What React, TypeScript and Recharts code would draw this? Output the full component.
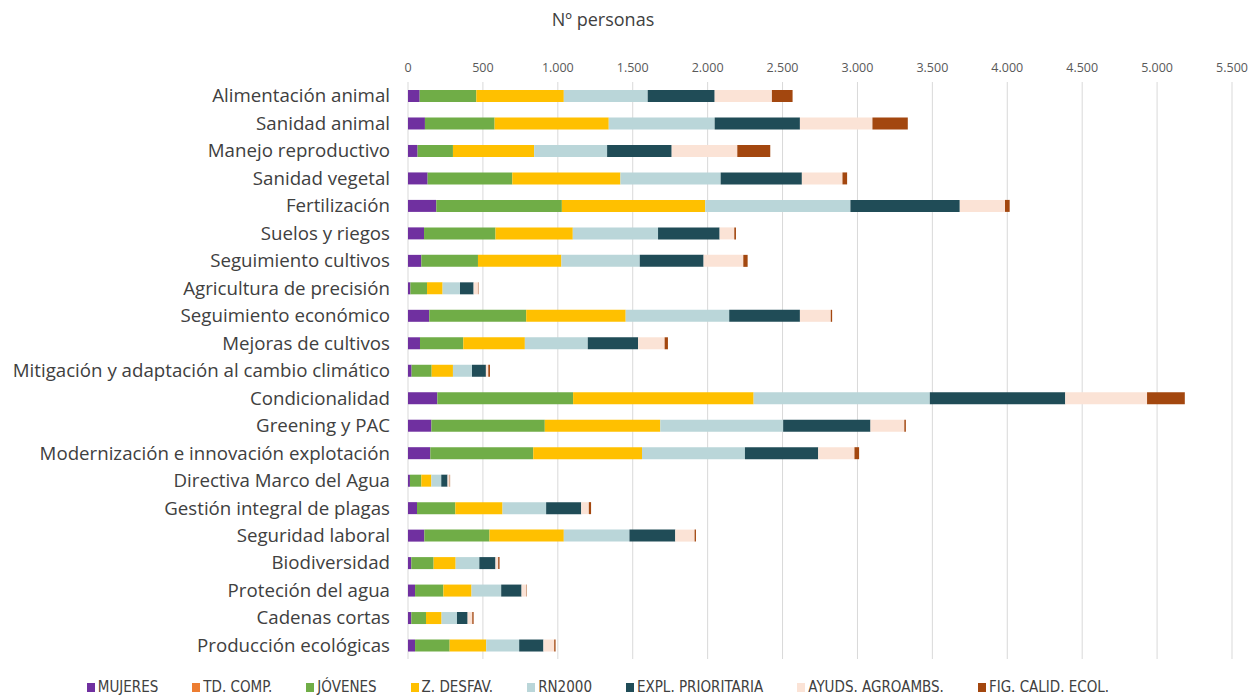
import React from 'react';
import { BarChart, Bar, XAxis, YAxis, CartesianGrid, Legend } from 'recharts';

const categories = [
  'Alimentación animal',
  'Sanidad animal',
  'Manejo reproductivo',
  'Sanidad vegetal',
  'Fertilización',
  'Suelos y riegos',
  'Seguimiento cultivos',
  'Agricultura de precisión',
  'Seguimiento económico',
  'Mejoras de cultivos',
  'Mitigación y adaptación al cambio climático',
  'Condicionalidad',
  'Greening y PAC',
  'Modernización e innovación explotación',
  'Directiva Marco del Agua',
  'Gestión integral de plagas',
  'Seguridad laboral',
  'Biodiversidad',
  'Proteción del agua',
  'Cadenas cortas',
  'Producción ecológicas',
];

const mujeres = [78, 113, 64, 131, 189, 107, 89, 16, 142, 80, 24, 196, 156, 149, 13, 60, 109, 22, 47, 22, 47];
const tdComp = [0, 0, 0, 0, 0, 0, 0, 0, 0, 0, 0, 0, 0, 0, 0, 0, 0, 0, 0, 0, 0];
const jovenes = [378, 465, 236, 565, 838, 477, 378, 111, 647, 289, 134, 906, 757, 687, 76, 256, 435, 149, 189, 98, 231];
const zDesfav = [584, 762, 542, 722, 957, 516, 557, 104, 664, 411, 142, 1205, 771, 726, 67, 315, 496, 147, 188, 104, 244];
const rn2000 = [560, 707, 487, 669, 969, 569, 523, 116, 691, 420, 127, 1176, 820, 687, 66, 291, 438, 158, 198, 103, 220];
const explPrioritaria = [447, 569, 431, 542, 730, 411, 426, 91, 472, 336, 93, 904, 583, 489, 42, 234, 306, 108, 136, 71, 162];
const ayudsAgroambs = [382, 484, 438, 271, 302, 98, 265, 29, 206, 177, 16, 546, 226, 242, 14, 51, 129, 18, 31, 31, 72];
const figCalidEcol = [138, 236, 220, 31, 31, 11, 29, 3, 9, 22, 11, 252, 10, 31, 3, 15, 9, 9, 3, 9, 9];

const xTicks = [0, 500, 1000, 1500, 2000, 2500, 3000, 3500, 4000, 4500, 5000, 5500];

const series = [
  { key: 'mujeres', name: 'MUJERES', color: '#7030A0', values: mujeres },
  { key: 'tdComp', name: 'TD. COMP.', color: '#ED7D31', values: tdComp },
  { key: 'jovenes', name: 'JÓVENES', color: '#70AD47', values: jovenes },
  { key: 'zDesfav', name: 'Z. DESFAV.', color: '#FFC000', values: zDesfav },
  { key: 'rn2000', name: 'RN2000', color: '#BAD6D9', values: rn2000 },
  { key: 'explPrioritaria', name: 'EXPL. PRIORITARIA', color: '#204C57', values: explPrioritaria },
  { key: 'ayudsAgroambs', name: 'AYUDS. AGROAMBS.', color: '#FBE3D6', values: ayudsAgroambs },
  { key: 'figCalidEcol', name: 'FIG. CALID. ECOL.', color: '#A3470F', values: figCalidEcol },
];

const data = categories.map((name, i) => {
  const row: Record<string, string | number> = { name };
  series.forEach((s) => {
    row[s.key] = s.values[i];
  });
  return row;
});

const fmt = (v: number) => String(v).replace(/\B(?=(\d{3})+(?!\d))/g, '.');

const renderLegend = () => (
  <div
    style={{
      display: 'flex',
      justifyContent: 'center',
      paddingTop: 19,
      paddingRight: 36,
      fontFamily: '"DejaVu Sans Condensed", "DejaVu Sans", sans-serif',
      fontStretch: 'condensed',
      fontSize: 15,
      color: '#404040',
    }}
  >
    {series.map((s) => (
      <span
        key={s.key}
        style={{ display: 'inline-flex', alignItems: 'center', margin: '0 17px' }}
      >
        <span
          style={{ width: 8, height: 9, background: s.color, display: 'inline-block', marginRight: 3 }}
        />
        {s.name}
      </span>
    ))}
  </div>
);

export default function App() {
  return (
    <div style={{ position: 'absolute', left: 0, top: 0, width: 1256, height: 697, background: '#fff' }}>
      <div
        style={{
          position: 'absolute',
          left: 0,
          width: 1206,
          top: 7,
          textAlign: 'center',
          fontFamily: '"Open Sans", sans-serif',
          fontSize: 18,
          color: '#404040',
        }}
      >
        Nº personas
      </div>
      <BarChart
        width={1256}
        height={697}
        data={data}
        layout="vertical"
        barSize={12}
        margin={{ top: 52, right: 24, bottom: 6, left: 0 }}
      >
        <CartesianGrid horizontal={false} stroke="#d9d9d9" />
        <XAxis
          type="number"
          orientation="top"
          domain={[0, 5500]}
          ticks={xTicks}
          tickFormatter={fmt}
          axisLine={false}
          tickLine={false}
          tickSize={0}
          tickMargin={10}
          height={30}
          interval={0}
          tick={{ fill: '#595959', fontSize: 12.5, fontFamily: '"Open Sans", sans-serif' }}
        />
        <YAxis
          type="category"
          dataKey="name"
          width={408}
          axisLine={false}
          tickLine={false}
          tickSize={0}
          tickMargin={18}
          interval={0}
          tick={{ fill: '#404040', fontSize: 18.7, fontFamily: '"Open Sans", sans-serif' }}
        />
        <Legend verticalAlign="bottom" height={32} content={renderLegend} />
        {series.map((s) => (
          <Bar
            key={s.key}
            dataKey={s.key}
            name={s.name}
            stackId="a"
            fill={s.color}
            isAnimationActive={false}
          />
        ))}
      </BarChart>
    </div>
  );
}
